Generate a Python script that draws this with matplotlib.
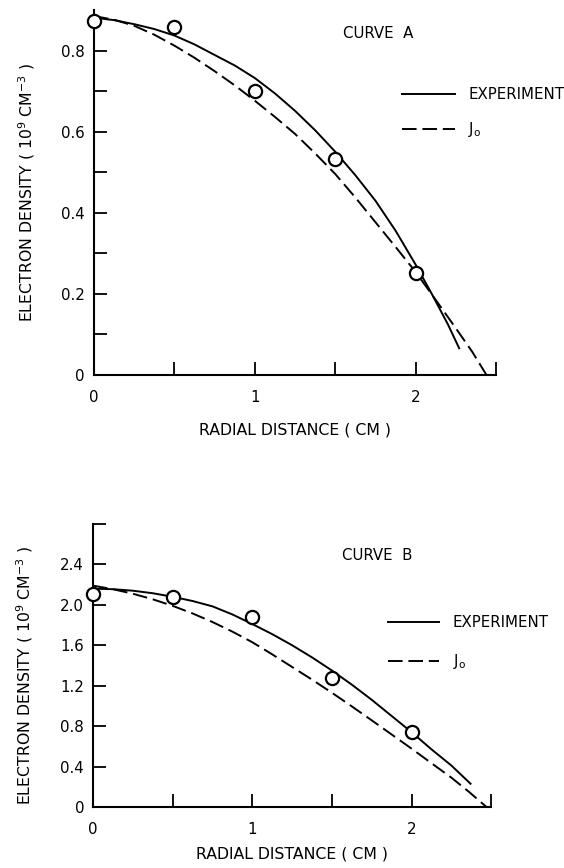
import matplotlib
matplotlib.use("Agg")
import matplotlib.pyplot as plt

plt.rcParams['font.family'] = ['DejaVu Sans']
plt.rcParams['mathtext.fontset'] = 'dejavusans'

# measured points (open circles)
r_pts = [0.0, 0.5, 1.0, 1.5, 2.0]
a_pts = [0.874, 0.858, 0.702, 0.532, 0.251]
b_pts = [2.11, 2.08, 1.88, 1.28, 0.74]

# curve A
a_exp_x = [0.0, 0.125, 0.25, 0.375, 0.5, 0.625, 0.75, 0.875, 1.0, 1.125,
           1.25, 1.375, 1.5, 1.625, 1.75, 1.875, 2.0, 2.1, 2.2, 2.27]
a_exp_y = [0.882, 0.876, 0.866, 0.854, 0.838, 0.816, 0.790, 0.764, 0.733, 0.695,
           0.652, 0.604, 0.551, 0.493, 0.430, 0.356, 0.272, 0.200, 0.125, 0.066]
a_j0_x = [0.0, 0.125, 0.25, 0.375, 0.5, 0.625, 0.75, 0.875, 1.0, 1.125, 1.25,
          1.375, 1.5, 1.625, 1.75, 1.875, 2.0, 2.125, 2.25, 2.35, 2.44]
a_j0_y = [0.886, 0.877, 0.862, 0.840, 0.813, 0.783, 0.750, 0.715, 0.677, 0.637,
          0.595, 0.547, 0.496, 0.438, 0.377, 0.316, 0.254, 0.185, 0.115, 0.058, 0.0]

# curve B
b_exp_x = [0.0, 0.125, 0.25, 0.375, 0.5, 0.625, 0.75, 0.875, 1.0, 1.125,
           1.25, 1.375, 1.5, 1.625, 1.75, 1.875, 2.0, 2.125, 2.25, 2.37]
b_exp_y = [2.16, 2.155, 2.14, 2.115, 2.08, 2.038, 1.985, 1.905, 1.81, 1.71,
           1.60, 1.48, 1.35, 1.21, 1.06, 0.90, 0.74, 0.57, 0.41, 0.23]
b_j0_x = [0.0, 0.125, 0.25, 0.375, 0.5, 0.625, 0.75, 0.875, 1.0, 1.125, 1.25,
          1.375, 1.5, 1.625, 1.75, 1.875, 2.0, 2.125, 2.25, 2.36, 2.47]
b_j0_y = [2.19, 2.155, 2.11, 2.055, 1.99, 1.915, 1.83, 1.735, 1.63, 1.51, 1.385,
          1.26, 1.13, 0.995, 0.857, 0.717, 0.577, 0.433, 0.29, 0.15, 0.0]

a_yticks = [0, 0.2, 0.4, 0.6, 0.8]
a_ylabels = ['0', '0.2', '0.4', '0.6', '0.8']
a_yminor = [0.1, 0.3, 0.5, 0.7]
b_yticks = [0, 0.4, 0.8, 1.2, 1.6, 2.0, 2.4, 2.8]
b_ylabels = ['0', '0.4', '0.8', '1.2', '1.6', '2.0', '2.4', '']
xticks = [0, 1, 2]
xlabels = ['0', '1', '2']
xminor = [0.5, 1.5, 2.5]

fs = 10.8
fig = plt.figure(figsize=(5.64, 8.68), dpi=100)
ax1 = fig.add_axes([0.1667, 0.568, 0.713, 0.420])
ax2 = fig.add_axes([0.165, 0.0703, 0.706, 0.326])


def style(ax, ymax, yticks, ylabels, yminor):
    ax.set_xlim(0, 2.5)
    ax.set_ylim(0, ymax)
    for s in ['top', 'right']:
        ax.spines[s].set_visible(False)
    for s in ['left', 'bottom']:
        ax.spines[s].set_linewidth(1.5)
    ax.set_xticks(xticks)
    ax.set_xticklabels(xlabels)
    ax.set_xticks(xminor, minor=True)
    ax.set_yticks(yticks)
    ax.set_yticklabels(ylabels)
    ax.set_yticks(yminor, minor=True)
    ax.tick_params(axis='both', which='both', direction='in', length=9.5,
                   width=1.3, labelsize=fs)
    ax.tick_params(axis='x', which='both', pad=11)
    ax.tick_params(axis='y', which='both', pad=6.5)
    ax.set_xlabel('RADIAL DISTANCE ( CM )', fontsize=11.3)
    ax.set_ylabel('ELECTRON DENSITY ( 10$^9$ CM$^{-3}$ )', fontsize=11.3)


def draw(ax, ex, ey, jx, jy, px, py):
    ax.plot(ex, ey, color='black', lw=1.4, label='EXPERIMENT')
    ax.plot(jx, jy, color='black', lw=1.4, dashes=(7.5, 3),
            label='J$_\\mathregular{o}$')
    ax.plot(px, py, 'o', ms=9.5, mfc='white', mec='black', mew=1.6,
            clip_on=False, zorder=3)


draw(ax1, a_exp_x, a_exp_y, a_j0_x, a_j0_y, r_pts, a_pts)
style(ax1, 0.9, a_yticks, a_ylabels, a_yminor)
ax1.text(0.619, 0.937, 'CURVE  A', transform=ax1.transAxes, fontsize=fs,
         va='center')
ax1.legend(loc='upper left', bbox_to_anchor=(0.766, 0.79), frameon=False,
           fontsize=fs, handlelength=3.5, handletextpad=0.9, labelspacing=1.2,
           borderpad=0, borderaxespad=0)
ax1.xaxis.set_label_coords(0.5, -0.131)
ax1.yaxis.set_label_coords(-0.143, 0.5)

draw(ax2, b_exp_x, b_exp_y, b_j0_x, b_j0_y, r_pts, b_pts)
style(ax2, 2.8, b_yticks, b_ylabels, [])
ax2.text(0.626, 0.89, 'CURVE  B', transform=ax2.transAxes, fontsize=fs,
         va='center')
ax2.legend(loc='upper left', bbox_to_anchor=(0.741, 0.678), frameon=False,
           fontsize=fs, handlelength=3.4, handletextpad=0.9, labelspacing=1.45,
           borderpad=0, borderaxespad=0)
ax2.xaxis.set_label_coords(0.5, -0.138)
ax2.yaxis.set_label_coords(-0.147, 0.466)

fig.savefig('out.png', dpi=100)
